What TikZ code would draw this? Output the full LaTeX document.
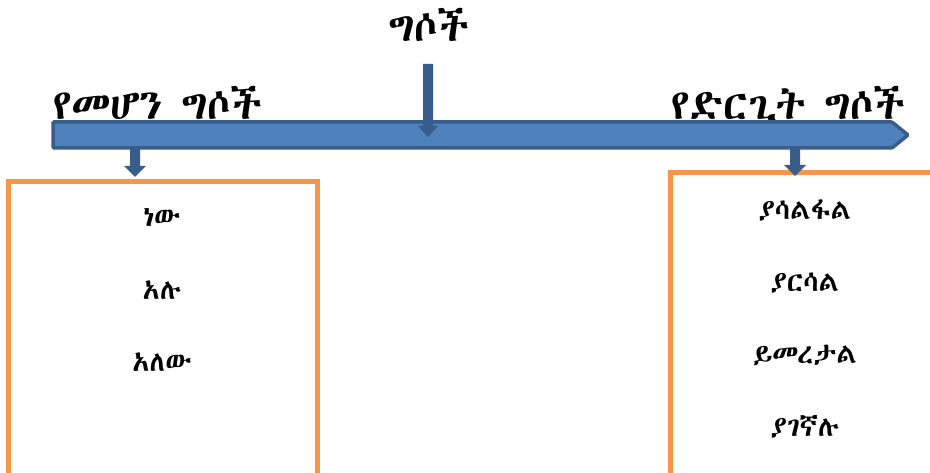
\documentclass[tikz,border=0pt]{standalone}
\usepackage{fontspec}
\IfFontExistsTF{Abyssinica SIL}{\newfontfamily\ethfont{Abyssinica SIL}}{%
 \IfFontExistsTF{FreeSerif}{\newfontfamily\ethfont{FreeSerif}}{%
  \IfFontExistsTF{FreeSans}{\newfontfamily\ethfont{FreeSans}}{%
   \IfFontExistsTF{Code2000}{\newfontfamily\ethfont{Code2000}}{%
    \newfontfamily\ethfont{DejaVu Sans}}}}}
\definecolor{barfill}{HTML}{4F81BD}
\definecolor{bardark}{HTML}{385D8A}
\definecolor{boxorange}{HTML}{F79646}
\tikzset{
  heading/.style={font=\ethfont\fontsize{42}{48}\selectfont, inner sep=0pt, anchor=base},
  item/.style={font=\ethfont\fontsize{28}{32}\selectfont, inner sep=0pt},
  listbox/.style={draw=boxorange, line width=5pt, fill=white},
}
\begin{document}
\begin{tikzpicture}[x=1pt,y=-1pt]
\useasboundingbox[fill=white] (0,0) rectangle (930,473);
% headings (behind bar)
\node[heading] (title) at (429,42) {ግሶች};
\node[heading, anchor=base west] (lefthead) at (53,120) {የመሆን ግሶች};
\node[heading, anchor=base east] (righthead) at (906,120) {የድርጊት ግሶች};
% main bar
\draw[draw=bardark, line width=3.5pt, fill=barfill, line join=miter, rounded corners=1pt]
  (53,122) -- (892,122) -- (908,135) -- (892,148) -- (53,148) -- cycle;
% title arrow
\fill[bardark] (423,64) -- (433,64) -- (433,126) -- (438,126) -- (428,137) -- (418,126) -- (423,126) -- cycle;
% boxes
\draw[listbox] (8,182) rectangle (317,480);
\draw[listbox] (670,173) rectangle (940,480);
% small arrows
\fill[bardark] (130,148) -- (140,148) -- (140,166) -- (146,166) -- (135,177) -- (124,166) -- (130,166) -- cycle;
\fill[bardark] (790,148) -- (800,148) -- (800,165) -- (806,165) -- (795,176) -- (784,165) -- (790,165) -- cycle;
% left items
\node[item] (l1) at (162,217) {ነው};
\node[item] (l2) at (162,290) {አሉ};
\node[item] (l3) at (162,362) {አለው};
% right items
\node[item] (r1) at (805,210) {ያሳልፋል};
\node[item] (r2) at (805,283) {ያርሳል};
\node[item] (r3) at (805,355) {ይመረታል};
\node[item] (r4) at (805,427) {ያገኛሉ};
\end{tikzpicture}
\end{document}
